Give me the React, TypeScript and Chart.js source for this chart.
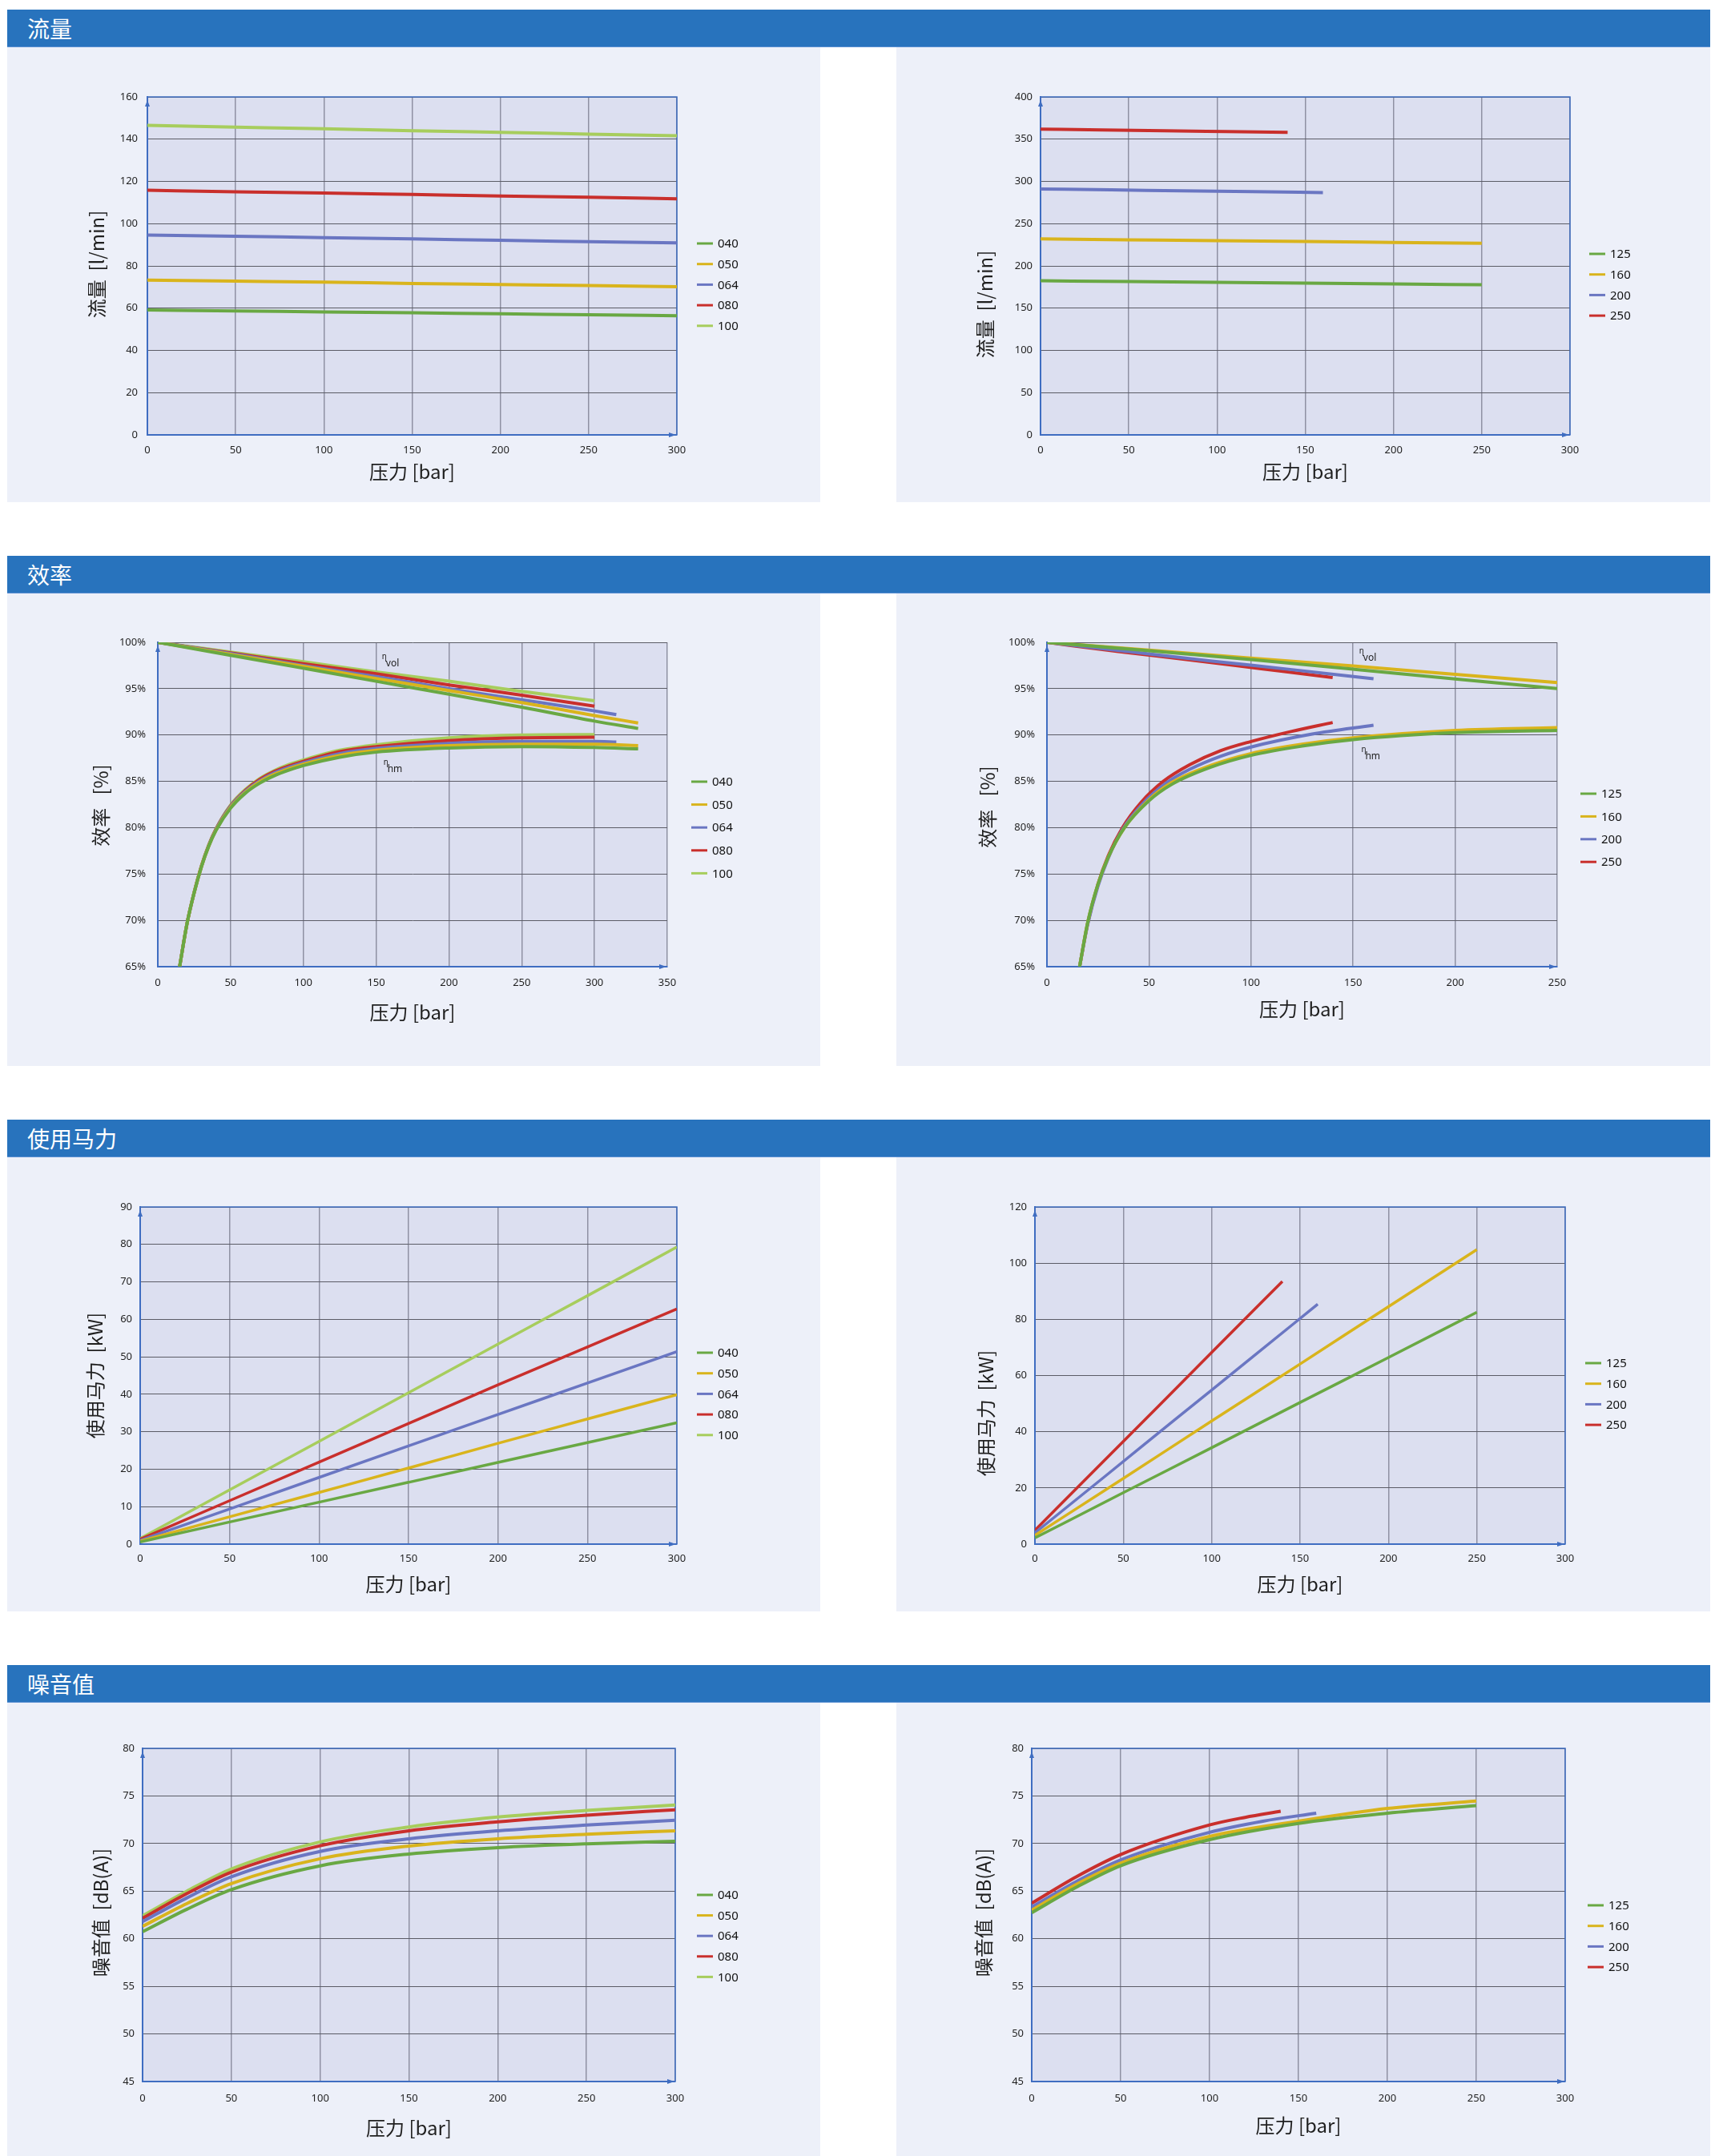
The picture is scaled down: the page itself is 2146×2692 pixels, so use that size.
import React, { useEffect, useRef } from 'react';
import { Chart, registerables } from 'chart.js';

Chart.register(...registerables);

// ---------- colours ----------
const GREEN = '#69a843';
const YELLOW = '#d9b41c';
const BLUE = '#6a76c2';
const RED = '#c92f2c';
const LGREEN = '#a7cd5d';

// ---------- tick labels / titles ----------
const SECTION_TITLES = ['流量', '效率', '使用马力', '噪音值'];
const X_TITLE = '压力 [bar]';
const Y_TITLE_FLOW = '流量  [l/min]';
const Y_TITLE_EFF = '效率   [%]';
const Y_TITLE_POWER = '使用马力  [kW]';
const Y_TITLE_NOISE = '噪音值  [dB(A)]';
const SMALL_SIZES = ['040', '050', '064', '080', '100'];
const LARGE_SIZES = ['125', '160', '200', '250'];

// ---------- 流量 (small) ----------
const FLOW_S_X = [0, 50, 100, 150, 200, 250, 300];
const FLOW_S_040 = [59.1, 58.7, 58.2, 57.8, 57.3, 56.9, 56.4];
const FLOW_S_050 = [73.3, 72.8, 72.3, 71.7, 71.2, 70.7, 70.1];
const FLOW_S_064 = [94.6, 94.0, 93.4, 92.8, 92.1, 91.5, 90.9];
const FLOW_S_080 = [115.8, 115.1, 114.5, 113.8, 113.1, 112.5, 111.8];
const FLOW_S_100 = [146.5, 145.7, 144.9, 144.0, 143.2, 142.4, 141.6];

// ---------- 流量 (large) ----------
const FLOW_L_X125 = [0, 50, 100, 150, 200, 250];
const FLOW_L_125 = [182.4, 181.5, 180.5, 179.6, 178.6, 177.7];
const FLOW_L_160 = [231.9, 230.9, 229.9, 228.8, 227.8, 226.8];
const FLOW_L_X200 = [0, 40, 80, 120, 160];
const FLOW_L_200 = [291.0, 290.0, 288.9, 287.9, 286.8];
const FLOW_L_X250 = [0, 35, 70, 105, 140];
const FLOW_L_250 = [361.9, 360.9, 360.0, 359.0, 358.0];

// ---------- 效率 (small) ----------
const VOL_S_X330 = [0, 50, 100, 150, 200, 250, 300, 330];
const VOL_S_X315 = [0, 50, 100, 150, 200, 250, 300, 315];
const VOL_S_X300 = [0, 50, 100, 150, 200, 250, 300];
const VOL_S_040 = [100, 98.6, 97.2, 95.8, 94.4, 93.0, 91.5, 90.7];
const VOL_S_050 = [100, 98.7, 97.4, 96.1, 94.8, 93.5, 92.1, 91.3];
const VOL_S_064 = [100, 98.8, 97.5, 96.3, 95.0, 93.8, 92.6, 92.2];
const VOL_S_080 = [100, 98.85, 97.7, 96.6, 95.4, 94.3, 93.1];
const VOL_S_100 = [100, 98.95, 97.9, 96.8, 95.8, 94.7, 93.7];
const HM_S_X330 = [15, 20, 25, 30, 35, 40, 50, 60, 70, 80, 90, 100, 125, 150, 200, 250, 300, 330];
const HM_S_X315 = [15, 20, 25, 30, 35, 40, 50, 60, 70, 80, 90, 100, 125, 150, 200, 250, 300, 315];
const HM_S_X300 = [15, 20, 25, 30, 35, 40, 50, 60, 70, 80, 90, 100, 125, 150, 200, 250, 300];
const HM_S_040 = [65, 69.6, 73.0, 75.8, 78.0, 79.7, 82.1, 83.7, 84.8, 85.6, 86.2, 86.7, 87.6, 88.15, 88.6, 88.75, 88.65, 88.5];
const HM_S_050 = [65, 69.6, 73.0, 75.8, 78.0, 79.75, 82.2, 83.8, 84.95, 85.75, 86.35, 86.85, 87.8, 88.35, 88.85, 89.0, 89.0, 88.85];
const HM_S_064 = [65, 69.6, 73.0, 75.8, 78.05, 79.8, 82.3, 83.9, 85.05, 85.9, 86.5, 87.0, 88.0, 88.55, 89.1, 89.3, 89.3, 89.25];
const HM_S_080 = [65, 69.6, 73.0, 75.85, 78.1, 79.85, 82.35, 84.0, 85.2, 86.05, 86.65, 87.15, 88.2, 88.75, 89.4, 89.7, 89.75];
const HM_S_100 = [65, 69.6, 73.05, 75.9, 78.15, 79.9, 82.45, 84.1, 85.3, 86.15, 86.8, 87.3, 88.35, 88.95, 89.7, 90.0, 90.05];

// ---------- 效率 (large) ----------
const VOL_L_X250 = [0, 50, 100, 150, 200, 250];
const VOL_L_125 = [100, 99.1, 98.15, 97.1, 96.05, 95.0];
const VOL_L_160 = [100, 99.15, 98.3, 97.45, 96.55, 95.65];
const VOL_L_X160 = [0, 40, 80, 120, 160];
const VOL_L_200 = [100, 99.0, 98.0, 97.05, 96.07];
const VOL_L_X140 = [0, 35, 70, 105, 140];
const VOL_L_250 = [100, 99.0, 98.1, 97.15, 96.2];
const HM_L_X250 = [16, 20, 25, 30, 38, 50, 61, 80, 100, 125, 150, 200, 250];
const HM_L_125 = [65, 69.8, 73.9, 76.8, 80, 82.9, 84.65, 86.5, 87.8, 88.8, 89.5, 90.25, 90.5];
const HM_L_160 = [65, 69.8, 73.9, 76.8, 80, 83.0, 84.85, 86.7, 88.0, 89.0, 89.7, 90.5, 90.8];
const HM_L_X160 = [16, 20, 25, 30, 37, 47, 59, 70, 85, 100, 130, 160];
const HM_L_200 = [65, 69.6, 73.7, 76.7, 79.8, 82.6, 84.9, 86.3, 87.7, 88.7, 90.1, 91.05];
const HM_L_X140 = [16, 20, 25, 30, 37, 46, 57, 70, 85, 100, 120, 140];
const HM_L_250 = [65, 69.7, 73.9, 76.95, 80, 82.7, 85, 86.8, 88.3, 89.3, 90.4, 91.35];

// ---------- 使用马力 (small) ----------
const PW_S_X = [0, 50, 100, 150, 200, 250, 300];
const PW_S_040 = [0.6, 5.9, 11.2, 16.5, 21.8, 27.1, 32.4];
const PW_S_050 = [0.8, 7.3, 13.8, 20.3, 26.9, 33.4, 39.9];
const PW_S_064 = [1.0, 9.4, 17.8, 26.2, 34.6, 43.0, 51.4];
const PW_S_080 = [1.3, 11.6, 21.9, 32.2, 42.5, 52.6, 62.8];
const PW_S_100 = [1.5, 14.5, 27.4, 40.4, 53.4, 66.3, 79.3];

// ---------- 使用马力 (large) ----------
const PW_L_X250 = [0, 50, 100, 150, 200, 250];
const PW_L_125 = [2.2, 18.3, 34.3, 50.4, 66.4, 82.5];
const PW_L_160 = [3.1, 23.4, 43.8, 64.1, 84.5, 104.8];
const PW_L_X160 = [0, 40, 80, 120, 160];
const PW_L_200 = [4.0, 24.3, 44.7, 65.0, 85.4];
const PW_L_X140 = [0, 35, 70, 105, 140];
const PW_L_250 = [4.9, 27.1, 49.2, 71.4, 93.5];

// ---------- 噪音值 (small) ----------
const NS_S_X = [0, 25, 50, 100, 150, 200, 250, 300];
const NS_S_040 = [60.74, 63.1, 65.16, 67.66, 68.9, 69.57, 69.97, 70.24];
const NS_S_050 = [61.3, 63.7, 65.8, 68.4, 69.74, 70.5, 70.97, 71.34];
const NS_S_064 = [61.8, 64.3, 66.5, 69.17, 70.5, 71.34, 71.94, 72.44];
const NS_S_080 = [62.15, 64.75, 67.0, 69.77, 71.34, 72.28, 72.98, 73.55];
const NS_S_100 = [62.41, 65.0, 67.33, 70.17, 71.74, 72.78, 73.48, 74.05];

// ---------- 噪音值 (large) ----------
const NS_L_X250 = [0, 25, 50, 100, 150, 200, 250];
const NS_L_125 = [62.73, 65.4, 67.67, 70.41, 72.12, 73.19, 73.99];
const NS_L_160 = [63.0, 65.7, 67.94, 70.75, 72.35, 73.69, 74.46];
const NS_L_X160 = [0, 25, 50, 100, 130, 160];
const NS_L_200 = [63.33, 66.0, 68.28, 71.18, 72.35, 73.19];
const NS_L_X140 = [0, 25, 50, 100, 120, 140];
const NS_L_250 = [63.73, 66.5, 68.84, 71.95, 72.75, 73.39];

// ---------- styling ----------
const TICK_FONT = '"Noto Sans", "DejaVu Sans", sans-serif';
const CJK_FONT = '"Noto Sans CJK SC", "Noto Sans", sans-serif';
const AXIS_BLUE = '#3f6dc1';
const H_GRID = '#5b5c66';
const V_GRID = '#8f91a3';
const PLOT_BG = '#dcdff0';
const PANEL_BG = '#edf0f9';
const HEADER_BG = '#2873bd';
const XH = 30;
const YW = 50;

type Series = { label: string; color: string; x: number[]; y: number[]; legend?: boolean };
type Note = { sub: string; x: number; y: number };
type Rect = { l: number; t: number; w: number; h: number };
type Spec = {
  panel: Rect;
  plot: { l: number; t: number; r: number; b: number };
  xMax: number;
  yMin: number;
  yMax: number;
  yStep: number;
  pct?: boolean;
  series: Series[];
  yTitle: string;
  xTitleDy: number;
  yTitleDx: number;
  yTitleDy: number;
  legDx: number;
  legDy: number;
  legGap: number;
  blueFrame: boolean;
  lineWidth: number;
  yPad: number;
  xPad: number;
  notes?: Note[];
};

const S = (label: string, color: string, x: number[], y: number[], legend = true): Series => ({ label, color, x, y, legend });
const SMALL_COLORS = [GREEN, YELLOW, BLUE, RED, LGREEN];
const LARGE_COLORS = [GREEN, YELLOW, BLUE, RED];

const LEFT_L = 9, LEFT_W = 1015, RIGHT_L = 1119, RIGHT_W = 1016;

const SPECS: Spec[] = [
  {
    panel: { l: LEFT_L, t: 59, w: LEFT_W, h: 568 }, plot: { l: 184, t: 121, r: 845, b: 543 },
    xMax: 300, yMin: 0, yMax: 160, yStep: 20,
    series: [
      S(SMALL_SIZES[0], SMALL_COLORS[0], FLOW_S_X, FLOW_S_040),
      S(SMALL_SIZES[1], SMALL_COLORS[1], FLOW_S_X, FLOW_S_050),
      S(SMALL_SIZES[2], SMALL_COLORS[2], FLOW_S_X, FLOW_S_064),
      S(SMALL_SIZES[3], SMALL_COLORS[3], FLOW_S_X, FLOW_S_080),
      S(SMALL_SIZES[4], SMALL_COLORS[4], FLOW_S_X, FLOW_S_100),
    ],
    yTitle: Y_TITLE_FLOW, xTitleDy: 46, yTitleDx: 63, yTitleDy: -2,
    legDx: 25, legDy: 183, legGap: 25.7, blueFrame: true, lineWidth: 4, yPad: 12, xPad: 11,
  },
  {
    panel: { l: RIGHT_L, t: 59, w: RIGHT_W, h: 568 }, plot: { l: 1299, t: 121, r: 1960, b: 543 },
    xMax: 300, yMin: 0, yMax: 400, yStep: 50,
    series: [
      S(LARGE_SIZES[0], LARGE_COLORS[0], FLOW_L_X125, FLOW_L_125),
      S(LARGE_SIZES[1], LARGE_COLORS[1], FLOW_L_X125, FLOW_L_160),
      S(LARGE_SIZES[2], LARGE_COLORS[2], FLOW_L_X200, FLOW_L_200),
      S(LARGE_SIZES[3], LARGE_COLORS[3], FLOW_L_X250, FLOW_L_250),
    ],
    yTitle: Y_TITLE_FLOW, xTitleDy: 46, yTitleDx: 69, yTitleDy: 48,
    legDx: 24, legDy: 196, legGap: 25.7, blueFrame: true, lineWidth: 4, yPad: 10, xPad: 11,
  },
  {
    panel: { l: LEFT_L, t: 741, w: LEFT_W, h: 590 }, plot: { l: 197, t: 802, r: 833, b: 1207 },
    xMax: 350, yMin: 65, yMax: 100, yStep: 5, pct: true,
    series: [
      S(SMALL_SIZES[0], SMALL_COLORS[0], VOL_S_X330, VOL_S_040),
      S(SMALL_SIZES[1], SMALL_COLORS[1], VOL_S_X330, VOL_S_050),
      S(SMALL_SIZES[2], SMALL_COLORS[2], VOL_S_X315, VOL_S_064),
      S(SMALL_SIZES[3], SMALL_COLORS[3], VOL_S_X300, VOL_S_080),
      S(SMALL_SIZES[4], SMALL_COLORS[4], VOL_S_X300, VOL_S_100),
      S(SMALL_SIZES[0], SMALL_COLORS[0], HM_S_X330, HM_S_040, false),
      S(SMALL_SIZES[1], SMALL_COLORS[1], HM_S_X330, HM_S_050, false),
      S(SMALL_SIZES[2], SMALL_COLORS[2], HM_S_X315, HM_S_064, false),
      S(SMALL_SIZES[3], SMALL_COLORS[3], HM_S_X300, HM_S_080, false),
      S(SMALL_SIZES[4], SMALL_COLORS[4], HM_S_X300, HM_S_100, false),
    ],
    yTitle: Y_TITLE_EFF, xTitleDy: 57, yTitleDx: 71, yTitleDy: 1,
    legDx: 30, legDy: 174, legGap: 28.6, blueFrame: false, lineWidth: 4, yPad: 15, xPad: 12,
    notes: [{ sub: 'vol', x: 154, y: 98.2 }, { sub: 'hm', x: 155, y: 86.75 }],
  },
  {
    panel: { l: RIGHT_L, t: 741, w: RIGHT_W, h: 590 }, plot: { l: 1307, t: 802, r: 1944, b: 1207 },
    xMax: 250, yMin: 65, yMax: 100, yStep: 5, pct: true,
    series: [
      S(LARGE_SIZES[0], LARGE_COLORS[0], VOL_L_X250, VOL_L_125),
      S(LARGE_SIZES[1], LARGE_COLORS[1], VOL_L_X250, VOL_L_160),
      S(LARGE_SIZES[2], LARGE_COLORS[2], VOL_L_X160, VOL_L_200),
      S(LARGE_SIZES[3], LARGE_COLORS[3], VOL_L_X140, VOL_L_250),
      S(LARGE_SIZES[0], LARGE_COLORS[0], HM_L_X250, HM_L_125, false),
      S(LARGE_SIZES[1], LARGE_COLORS[1], HM_L_X250, HM_L_160, false),
      S(LARGE_SIZES[2], LARGE_COLORS[2], HM_L_X160, HM_L_200, false),
      S(LARGE_SIZES[3], LARGE_COLORS[3], HM_L_X140, HM_L_250, false),
    ],
    yTitle: Y_TITLE_EFF, xTitleDy: 53, yTitleDx: 74, yTitleDy: 3,
    legDx: 29, legDy: 189, legGap: 28.4, blueFrame: false, lineWidth: 4, yPad: 15, xPad: 12,
    notes: [{ sub: 'vol', x: 153, y: 98.75 }, { sub: 'hm', x: 154, y: 88.2 }],
  },
  {
    panel: { l: LEFT_L, t: 1445, w: LEFT_W, h: 567 }, plot: { l: 175, t: 1507, r: 845, b: 1928 },
    xMax: 300, yMin: 0, yMax: 90, yStep: 10,
    series: [
      S(SMALL_SIZES[0], SMALL_COLORS[0], PW_S_X, PW_S_040),
      S(SMALL_SIZES[1], SMALL_COLORS[1], PW_S_X, PW_S_050),
      S(SMALL_SIZES[2], SMALL_COLORS[2], PW_S_X, PW_S_064),
      S(SMALL_SIZES[3], SMALL_COLORS[3], PW_S_X, PW_S_080),
      S(SMALL_SIZES[4], SMALL_COLORS[4], PW_S_X, PW_S_100),
    ],
    yTitle: Y_TITLE_POWER, xTitleDy: 50, yTitleDx: 56, yTitleDy: 0,
    legDx: 25, legDy: 182, legGap: 25.7, blueFrame: true, lineWidth: 3.5, yPad: 10, xPad: 10,
  },
  {
    panel: { l: RIGHT_L, t: 1445, w: RIGHT_W, h: 567 }, plot: { l: 1292, t: 1507, r: 1954, b: 1928 },
    xMax: 300, yMin: 0, yMax: 120, yStep: 20,
    series: [
      S(LARGE_SIZES[0], LARGE_COLORS[0], PW_L_X250, PW_L_125),
      S(LARGE_SIZES[1], LARGE_COLORS[1], PW_L_X250, PW_L_160),
      S(LARGE_SIZES[2], LARGE_COLORS[2], PW_L_X160, PW_L_200),
      S(LARGE_SIZES[3], LARGE_COLORS[3], PW_L_X140, PW_L_250),
    ],
    yTitle: Y_TITLE_POWER, xTitleDy: 50, yTitleDx: 61, yTitleDy: 47,
    legDx: 25, legDy: 195, legGap: 25.7, blueFrame: true, lineWidth: 3.5, yPad: 10, xPad: 10,
  },
  {
    panel: { l: LEFT_L, t: 2126, w: LEFT_W, h: 566 }, plot: { l: 178, t: 2183, r: 843, b: 2599 },
    xMax: 300, yMin: 45, yMax: 80, yStep: 5,
    series: [
      S(SMALL_SIZES[0], SMALL_COLORS[0], NS_S_X, NS_S_040),
      S(SMALL_SIZES[1], SMALL_COLORS[1], NS_S_X, NS_S_050),
      S(SMALL_SIZES[2], SMALL_COLORS[2], NS_S_X, NS_S_064),
      S(SMALL_SIZES[3], SMALL_COLORS[3], NS_S_X, NS_S_080),
      S(SMALL_SIZES[4], SMALL_COLORS[4], NS_S_X, NS_S_100),
    ],
    yTitle: Y_TITLE_NOISE, xTitleDy: 58, yTitleDx: 52, yTitleDy: -3,
    legDx: 27, legDy: 183, legGap: 25.6, blueFrame: true, lineWidth: 4, yPad: 10, xPad: 13,
  },
  {
    panel: { l: RIGHT_L, t: 2126, w: RIGHT_W, h: 566 }, plot: { l: 1288, t: 2183, r: 1954, b: 2599 },
    xMax: 300, yMin: 45, yMax: 80, yStep: 5,
    series: [
      S(LARGE_SIZES[0], LARGE_COLORS[0], NS_L_X250, NS_L_125),
      S(LARGE_SIZES[1], LARGE_COLORS[1], NS_L_X250, NS_L_160),
      S(LARGE_SIZES[2], LARGE_COLORS[2], NS_L_X160, NS_L_200),
      S(LARGE_SIZES[3], LARGE_COLORS[3], NS_L_X140, NS_L_250),
    ],
    yTitle: Y_TITLE_NOISE, xTitleDy: 55, yTitleDx: 60, yTitleDy: -3,
    legDx: 28, legDy: 196, legGap: 25.7, blueFrame: true, lineWidth: 4, yPad: 10, xPad: 13,
  },
];

const HEADERS = [
  { t: 12, h: 47 },
  { t: 694, h: 47 },
  { t: 1398, h: 47 },
  { t: 2079, h: 47 },
];

function makeDeco(spec: Spec) {
  return {
    id: 'deco',
    beforeDraw(chart: any) {
      const { ctx, chartArea: a } = chart;
      ctx.save();
      ctx.fillStyle = PLOT_BG;
      ctx.fillRect(a.left, a.top, a.right - a.left, a.bottom - a.top);
      ctx.restore();
    },
    beforeDatasetsDraw(chart: any) {
      const { ctx, chartArea: a } = chart;
      ctx.save();
      if (spec.blueFrame) {
        ctx.strokeStyle = AXIS_BLUE;
        ctx.lineWidth = 1.5;
        ctx.beginPath();
        ctx.moveTo(a.left, a.top);
        ctx.lineTo(a.right, a.top);
        ctx.lineTo(a.right, a.bottom);
        ctx.stroke();
      }
      ctx.fillStyle = AXIS_BLUE;
      ctx.beginPath();
      ctx.moveTo(a.left, a.top + 4);
      ctx.lineTo(a.left - 3, a.top + 12);
      ctx.lineTo(a.left + 3, a.top + 12);
      ctx.closePath();
      ctx.fill();
      ctx.beginPath();
      ctx.moveTo(a.right - 1, a.bottom);
      ctx.lineTo(a.right - 10, a.bottom - 3);
      ctx.lineTo(a.right - 10, a.bottom + 3);
      ctx.closePath();
      ctx.fill();
      ctx.restore();
    },
    afterDraw(chart: any) {
      const { ctx, chartArea: a } = chart;
      ctx.save();
      ctx.fillStyle = '#1f1f1f';
      ctx.font = `24px ${CJK_FONT}`;
      ctx.textAlign = 'center';
      ctx.textBaseline = 'middle';
      ctx.fillText(X_TITLE, (a.left + a.right) / 2, a.bottom + spec.xTitleDy);
      ctx.save();
      ctx.translate(a.left - spec.yTitleDx, (a.top + a.bottom) / 2 + spec.yTitleDy);
      ctx.rotate(-Math.PI / 2);
      ctx.fillText(spec.yTitle, 0, 0);
      ctx.restore();

      // legend
      let y = a.top + spec.legDy;
      ctx.textAlign = 'left';
      ctx.font = `15px ${TICK_FONT}`;
      chart.data.datasets.forEach((ds: any) => {
        if (!ds.showInLegend) return;
        const x0 = a.right + spec.legDx;
        ctx.strokeStyle = ds.borderColor;
        ctx.lineWidth = 3;
        ctx.beginPath();
        ctx.moveTo(x0, y);
        ctx.lineTo(x0 + 20, y);
        ctx.stroke();
        ctx.fillStyle = '#111';
        ctx.fillText(ds.label, x0 + 26, y + 1);
        y += spec.legGap;
      });

      // η notes
      (spec.notes || []).forEach((n) => {
        const px = chart.scales.x.getPixelForValue(n.x);
        const py = chart.scales.y.getPixelForValue(n.y);
        ctx.fillStyle = '#222';
        ctx.textBaseline = 'alphabetic';
        ctx.font = `10px ${TICK_FONT}`;
        ctx.fillText('η', px, py);
        ctx.font = `12px ${TICK_FONT}`;
        ctx.fillText(n.sub, px + 5, py + 9);
      });
      ctx.restore();
    },
  };
}

function buildConfig(spec: Spec): any {
  const datasets = spec.series.map((s) => ({
    label: s.label,
    data: s.x.map((x, i) => ({ x, y: s.y[i] })),
    borderColor: s.color,
    backgroundColor: s.color,
    borderWidth: spec.lineWidth,
    pointRadius: 0,
    pointHoverRadius: 0,
    fill: false,
    cubicInterpolationMode: 'monotone',
    showInLegend: s.legend !== false,
  }));
  const pad = {
    left: spec.plot.l - spec.panel.l - YW,
    top: spec.plot.t - spec.panel.t,
    right: spec.panel.l + spec.panel.w - spec.plot.r,
    bottom: spec.panel.t + spec.panel.h - spec.plot.b - XH,
  };
  const tickFont = { family: TICK_FONT, size: 13 };
  return {
    type: 'line',
    data: { datasets },
    plugins: [makeDeco(spec)],
    options: {
      animation: false,
      responsive: false,
      devicePixelRatio: 1,
      layout: { padding: pad },
      plugins: { legend: { display: false }, title: { display: false }, tooltip: { enabled: false } },
      events: [],
      scales: {
        x: {
          type: 'linear',
          min: 0,
          max: spec.xMax,
          ticks: { stepSize: 50, font: tickFont, color: '#1f1f1f', padding: spec.xPad, maxRotation: 0, autoSkip: false },
          grid: { color: V_GRID, lineWidth: 1.5, drawTicks: false },
          border: { color: AXIS_BLUE, width: 2 },
          afterFit: (sc: any) => { sc.height = XH; },
        },
        y: {
          type: 'linear',
          min: spec.yMin,
          max: spec.yMax,
          ticks: {
            stepSize: spec.yStep,
            font: tickFont,
            color: '#1f1f1f',
            padding: spec.yPad,
            callback: (v: any) => (spec.pct ? `${v}%` : `${v}`),
          },
          grid: { color: H_GRID, lineWidth: 1, drawTicks: false },
          border: { color: AXIS_BLUE, width: 2 },
          afterFit: (sc: any) => { sc.width = YW; },
        },
      },
    },
  };
}

function PerfChart({ spec }: { spec: Spec }) {
  const ref = useRef<HTMLCanvasElement | null>(null);
  useEffect(() => {
    if (!ref.current) return;
    const chart = new Chart(ref.current, buildConfig(spec));
    return () => chart.destroy();
  }, [spec]);
  return (
    <canvas
      ref={ref}
      width={spec.panel.w}
      height={spec.panel.h}
      style={{ position: 'absolute', left: spec.panel.l, top: spec.panel.t, width: spec.panel.w, height: spec.panel.h, display: 'block' }}
    />
  );
}

export default function App() {
  useEffect(() => {
    document.body.style.margin = '0';
  }, []);
  return (
    <div style={{ position: 'absolute', left: 0, top: 0, width: 2146, height: 2692, background: '#ffffff', overflow: 'hidden' }}>
      {HEADERS.map((h, i) => (
        <div
          key={'h' + i}
          style={{
            position: 'absolute', left: 9, top: h.t, width: 2126, height: h.h, background: HEADER_BG,
            borderBottom: '1px solid #5a8fd2', boxSizing: 'border-box',
            color: '#ffffff', fontFamily: CJK_FONT, fontSize: 28, lineHeight: h.h + 'px', paddingLeft: 25,
          }}
        >
          {SECTION_TITLES[i]}
        </div>
      ))}
      {SPECS.map((s, i) => (
        <div key={'p' + i} style={{ position: 'absolute', left: s.panel.l, top: s.panel.t, width: s.panel.w, height: s.panel.h, background: PANEL_BG }} />
      ))}
      {SPECS.map((s, i) => (
        <PerfChart key={'c' + i} spec={s} />
      ))}
    </div>
  );
}
